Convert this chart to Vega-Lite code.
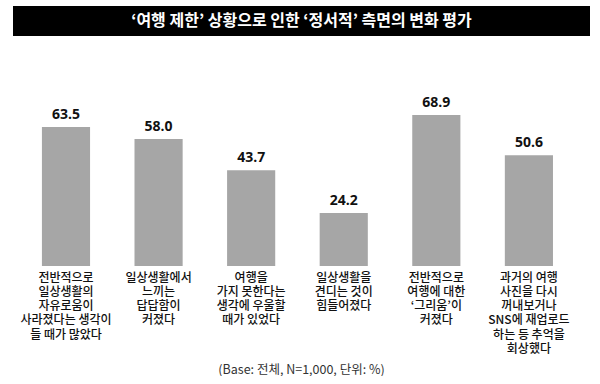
{
  "$schema": "https://vega.github.io/schema/vega-lite/v6.json",
  "padding": {"left": 13, "top": 6, "right": 10, "bottom": 0},
  "spacing": 11,
  "background": "#ffffff",
  "config": {"view": {"stroke": null}},
  "vconcat": [
    {
      "width": 577,
      "height": 30,
      "view": {"fill": "#000000", "stroke": null},
      "data": {"values": [{"title": "‘여행 제한’ 상황으로 인한 ‘정서적’ 측면의 변화 평가"}]},
      "mark": {"type": "text", "font": "Noto Sans CJK KR", "fontWeight": "bold", "fontSize": 16, "color": "#ffffff", "baseline": "middle", "align": "center"},
      "encoding": {"text": {"field": "title"}}
    },
    {
      "width": 577,
      "height": 219,
      "data": {"values": [
        {"label": "전반적으로|일상생활의|자유로움이|사라졌다는 생각이|들 때가 많았다", "value": 63.5},
        {"label": "일상생활에서|느끼는|답답함이|커졌다", "value": 58.0},
        {"label": "여행을|가지 못한다는|생각에 우울할|때가 있었다", "value": 43.7},
        {"label": "일상생활을|견디는 것이|힘들어졌다", "value": 24.2},
        {"label": "전반적으로|여행에 대한|‘그리움’이|커졌다", "value": 68.9},
        {"label": "과거의 여행|사진을 다시|꺼내보거나|SNS에 재업로드|하는 등 추억을|회상했다", "value": 50.6}
      ]},
      "title": {"text": "(Base: 전체, N=1,000, 단위: %)", "orient": "bottom", "anchor": "middle", "font": "Noto Sans CJK KR", "fontSize": 12.5, "fontWeight": "normal", "color": "#333333", "offset": 9},
      "encoding": {
        "x": {
          "field": "label", "type": "nominal", "sort": null,
          "scale": {"range": [6.7, 562.2], "paddingInner": 0.48, "paddingOuter": 0.24},
          "axis": {
            "title": null, "domain": false, "ticks": false, "labelAngle": 0,
            "labelExpr": "split(datum.label, '|')",
            "labelFont": "Noto Sans CJK KR", "labelFontSize": 12, "labelFontWeight": 500, "labelColor": "#111111",
            "labelLineHeight": 14.3, "labelPadding": 6, "labelBaseline": "top", "labelLimit": 200
          }
        },
        "y": {"field": "value", "type": "quantitative", "scale": {"domain": [0, 100]}, "axis": null}
      },
      "layer": [
        {"mark": {"type": "bar", "color": "#a6a6a6"}},
        {
          "mark": {"type": "text", "baseline": "bottom", "dy": -5, "font": "Open Sans", "fontWeight": "bold", "fontSize": 14, "color": "#111111"},
          "encoding": {"text": {"field": "value", "type": "quantitative", "format": ".1f"}}
        }
      ]
    }
  ]
}
